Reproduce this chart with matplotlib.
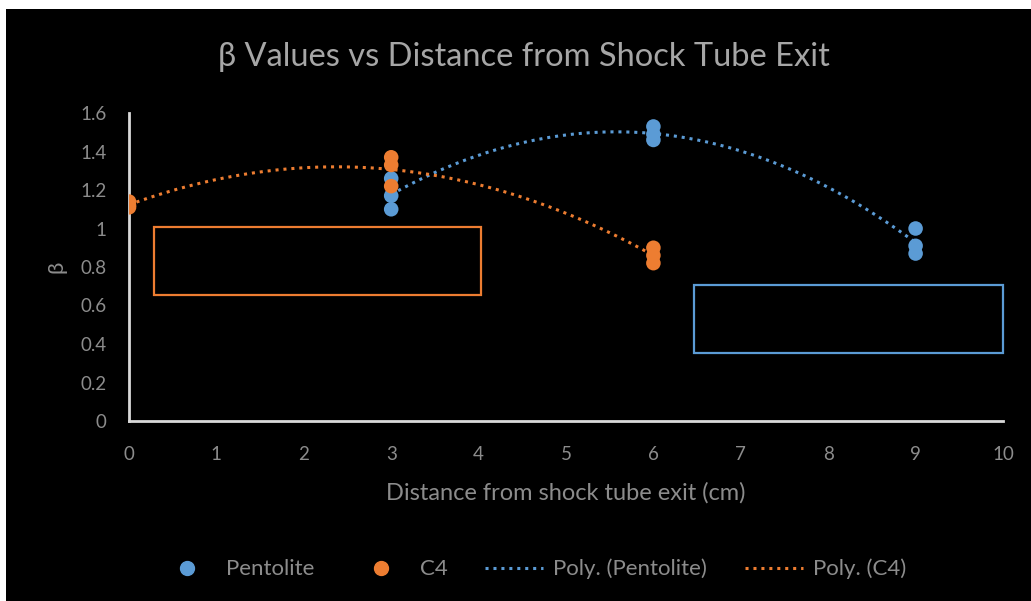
import numpy as np
import matplotlib
matplotlib.use("Agg")
import matplotlib.pyplot as plt
from matplotlib.patches import Rectangle
from matplotlib.lines import Line2D

plt.rcParams['font.family'] = ['Lato', 'DejaVu Sans']

pent_x = [3, 3, 3, 6, 6, 6, 9, 9, 9]
pent_y = [1.26, 1.17, 1.10, 1.53, 1.49, 1.46, 1.00, 0.91, 0.87]
c4_x = [0, 0, 0, 3, 3, 3, 6, 6, 6]
c4_y = [1.14, 1.12, 1.11, 1.37, 1.33, 1.22, 0.90, 0.86, 0.82]

xticks = list(range(0, 11))
yticks = [0, 0.2, 0.4, 0.6, 0.8, 1.0, 1.2, 1.4, 1.6]
ytick_labels = ['0', '0.2', '0.4', '0.6', '0.8', '1', '1.2', '1.4', '1.6']

blue = '#5b9bd5'
orange = '#ed7d31'
grey = '#8c8c8c'

fig = plt.figure(figsize=(10.31, 6.01), dpi=100, facecolor='white')
fig.patches.append(Rectangle((6/1031, 0), 1 - 6/1031, (601 - 9)/601,
                             transform=fig.transFigure, facecolor='black',
                             edgecolor='none', zorder=-10))

ax = fig.add_axes([129/1031, (601-421)/601, (1003-129)/1031, (421-113)/601])
ax.set_facecolor('black')
ax.patch.set_alpha(0)

# trendlines (2nd order polynomial fits)
for xs, ys, col in [(pent_x, pent_y, blue), (c4_x, c4_y, orange)]:
    coef = np.polyfit(xs, ys, 2)
    xx = np.linspace(min(xs), max(xs), 200)
    ax.plot(xx, np.polyval(coef, xx), linestyle=(0, (1, 1.6)), color=col,
            lw=2.2, zorder=2)

ax.scatter(pent_x, pent_y, s=110, color=blue, zorder=3, edgecolors='none')
ax.scatter(c4_x, c4_y, s=110, color=orange, zorder=4, edgecolors='none')

# annotation boxes
ax.add_patch(Rectangle((0.29, 0.655), 4.03 - 0.29, 1.01 - 0.655, fill=False,
                       edgecolor=orange, lw=1.6, zorder=1))
ax.add_patch(Rectangle((6.46, 0.355), 10.0 - 6.46, 0.705 - 0.355, fill=False,
                       edgecolor=blue, lw=1.6, zorder=1, clip_on=False))

ax.set_xlim(0, 10)
ax.set_ylim(0, 1.6)
ax.set_xticks(xticks)
ax.set_xticklabels([str(t) for t in xticks])
ax.set_yticks(yticks)
ax.set_yticklabels(ytick_labels)
ax.tick_params(axis='both', length=0, colors=grey, labelsize=13.5)
ax.tick_params(axis='x', pad=18)
ax.tick_params(axis='y', pad=16)
for s in ['top', 'right']:
    ax.spines[s].set_visible(False)
for s in ['left', 'bottom']:
    ax.spines[s].set_color('#d9d9d9')
    ax.spines[s].set_linewidth(2)

ax.set_xlabel('Distance from shock tube exit (cm)', color=grey, fontsize=17, labelpad=14)
ax.set_ylabel('β', color=grey, fontsize=16, labelpad=10)

fig.text(524/1031, 1 - 57/601, 'β Values vs Distance from Shock Tube Exit',
         ha='center', va='center', color='#a6a6a6', fontsize=23.5)

handles = [
    Line2D([], [], marker='o', linestyle='none', color=blue, markersize=10),
    Line2D([], [], marker='o', linestyle='none', color=orange, markersize=10),
    Line2D([], [], linestyle=(0, (1, 1.6)), color=blue, lw=2.2),
    Line2D([], [], linestyle=(0, (1, 1.6)), color=orange, lw=2.2),
]
labels = ['Pentolite', 'C4', 'Poly. (Pentolite)', 'Poly. (C4)']
leg = fig.legend(handles, labels, loc='center', bbox_to_anchor=(532/1031, 1 - 569/601),
                 ncol=4, frameon=False, fontsize=16, labelcolor=grey,
                 handlelength=2.6, columnspacing=1.7, handletextpad=0.45)

fig.savefig('out.png', dpi=100, facecolor=fig.get_facecolor())
